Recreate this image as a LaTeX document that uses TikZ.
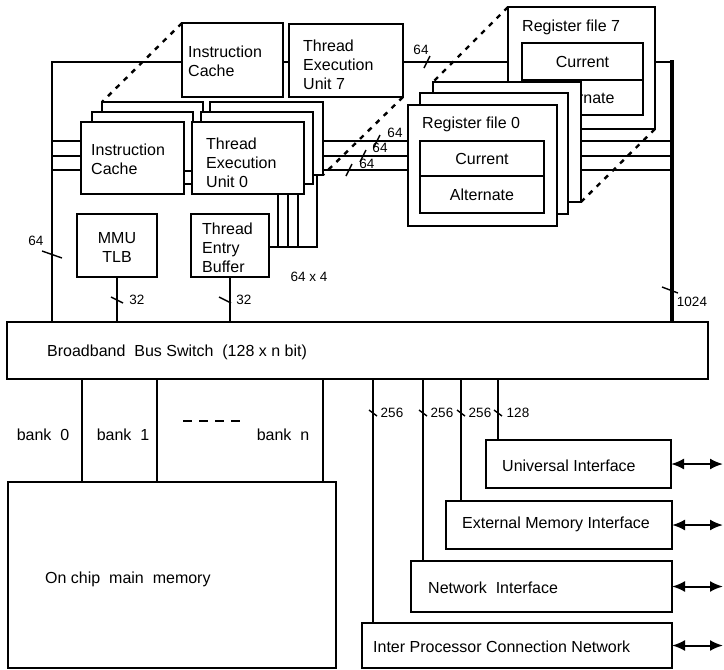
\documentclass[tikz,border=0pt]{standalone}
\usepackage{fontspec}
\setmainfont{Liberation Sans}
\usetikzlibrary{arrows.meta}
\newcommand\bx[5]{\node[box, minimum width=#4pt, minimum height=#5pt] (#1) at (#2,#3) {};}
\begin{document}
\begin{tikzpicture}[x=1pt,y=-1pt,
 box/.style={draw, line width=1.5pt, fill=white, inner sep=0pt, outer sep=0pt, anchor=north west},
 txt/.style={font=\fontsize{16}{19}\selectfont, inner sep=0pt, align=left},
 lbl/.style={font=\fontsize{13.5}{15}\selectfont, inner sep=0pt},
 wire/.style={line width=1.6pt},
 heavy/.style={line width=4pt},
 tick/.style={line width=1.4pt},
 persp/.style={line width=2.4pt, dash pattern=on 5pt off 6pt},
 io/.style={line width=2pt, {Latex[length=13pt,width=11pt]}-{Latex[length=13pt,width=11pt]}}]
\useasboundingbox (0,0) rectangle (724,670);
% helper coordinates
\coordinate (xL) at (52,0);
\coordinate (xR) at (672,0);
\coordinate (xE) at (723,0);
\coordinate (yT) at (0,62);
\coordinate (y1) at (0,141);
\coordinate (y2) at (0,156);
\coordinate (y3) at (0,170);
% lower boxes
\bx{bus}{7}{322}{701}{57}
\bx{mem}{8}{482}{328}{186}
\bx{ui}{486}{440}{185}{48}
\bx{emi}{446}{501}{226}{48}
\bx{ni}{411}{561}{261}{51}
\bx{ipcn}{362}{623}{310}{45}
\bx{mmu}{77}{214}{80}{63}
\bx{teb}{191}{214}{78}{63}
% frame and internal buses
\draw[wire] (bus.north -| xL) -- (xL |- yT) -- (xR |- yT);
\draw[wire] (xL |- y1) -- (xR |- y1);
\draw[wire] (xL |- y2) -- (xR |- y2);
\draw[wire] (xL |- y3) -- (xR |- y3);
\draw[heavy] (672,60) -- (bus.north -| xR);
% register file 7
\bx{rf7}{508}{7}{147}{122}
\bx{rf7c}{522}{43}{121}{37}
\bx{rf7a}{522}{80}{121}{35}
\node[txt, anchor=west] (trf7) at (522,27) {Register file 7};
\node[txt] (trf7c) at (rf7c.center) {Current};
\node[txt] (trf7a) at (rf7a.center) {Alternate};
\bx{rff2}{433}{82}{148}{120}
\bx{rff1}{420}{93}{148}{121}
\bx{rf0}{408}{105}{149}{121}
\bx{rf0c}{420}{141}{124}{35}
\bx{rf0a}{420}{176}{124}{37}
\node[txt, anchor=west] (trf0) at (422,124) {Register file 0};
\node[txt] (trf0c) at (rf0c.center) {Current};
\node[txt] (trf0a) at (rf0a.center) {Alternate};
% unit 7
\bx{ic7}{182}{23}{101}{74}
\bx{teu7}{289}{24}{114}{73}
\node[txt, anchor=west] (tic7) at (188,61) {Instruction\\Cache};
\node[txt, anchor=west] (tteu7) at (303,65) {Thread\\Execution\\Unit 7};
% stacked units
\bx{icf2}{102}{102}{101}{72}
\bx{teuf2}{210}{102}{113}{73}
\bx{icf1}{92}{112}{101}{72}
\bx{teuf1}{201}{112}{112}{72}
\bx{ic0}{81}{122}{103}{72}
\bx{teu0}{192}{122}{112}{72}
\node[txt, anchor=west] (tic0) at (91,159.5) {Instruction\\Cache};
\node[txt, anchor=west] (tteu0) at (206,162.5) {Thread\\Execution\\Unit 0};
% link between cache 0 and unit 0
\coordinate (ya) at (0,171);
\coordinate (yb) at (0,184);
\draw[wire] (ic0.east |- ya) -- (teu0.west |- ya);
\draw[wire] (ic0.east |- yb) -- (teu0.west |- yb);
% 64 x 4 links to thread entry buffer
\coordinate (v1) at (278,0);
\coordinate (v2) at (288,0);
\coordinate (v3) at (298,0);
\coordinate (v4) at (317,175);
\coordinate (yc) at (0,247);
\draw[wire] (teu0.south -| v1) -- (v1 |- yc);
\draw[wire] (teu0.south -| v2) -- (v2 |- yc);
\draw[wire] (teu0.south -| v3) -- (v3 |- yc);
\draw[wire] (v4) -- (v4 |- yc) -- (teb.east |- yc);
% MMU / TEB to bus
\draw[wire] (mmu.south) -- (mmu.south |- bus.north);
\draw[wire] (teb.south) -- (teb.south |- bus.north);
% banks
\coordinate (bk0) at (82,0);
\coordinate (bk1) at (157,0);
\coordinate (bkn) at (323,0);
\draw[wire] (bus.south -| bk0) -- (mem.north -| bk0);
\draw[wire] (bus.south -| bk1) -- (mem.north -| bk1);
\draw[wire] (bus.south -| bkn) -- (mem.north -| bkn);
\draw[line width=2.6pt, dash pattern=on 9pt off 7pt] (183,421) -- (240,421);
% interfaces
\coordinate (p1) at (373,0);
\coordinate (p2) at (423,0);
\coordinate (p3) at (461,0);
\coordinate (p4) at (498,0);
\draw[wire] (bus.south -| p1) -- (ipcn.north -| p1);
\draw[wire] (bus.south -| p2) -- (ni.north -| p2);
\draw[wire] (bus.south -| p3) -- (emi.north -| p3);
\draw[wire] (bus.south -| p4) -- (ui.north -| p4);
\draw[io] (ui.east) -- (ui.east -| xE);
\draw[io] (emi.east) -- (emi.east -| xE);
\draw[io] (ni.east) -- (ni.east -| xE);
\draw[io] (ipcn.east) -- (ipcn.east -| xE);
% texts
\node[txt] (tmmu) at (117,247.5) [align=center] {MMU\\TLB};
\node[txt, anchor=west] (tteb) at (202,248) {Thread\\Entry\\Buffer};
\node[txt, anchor=west] (tbus) at (47,352) {Broadband\ \ Bus Switch\ \ (128 x n bit)};
\node[txt] (tb0) at (43,435) {bank\ \ 0};
\node[txt] (tb1) at (123,435) {bank\ \ 1};
\node[txt] (tbn) at (283,435) {bank\ \ n};
\node[txt, anchor=west] (tmem) at (45,579) {On chip\ \ main\ \ memory};
\node[txt, anchor=west] (tui) at (502,466) {Universal Interface};
\node[txt, anchor=west] (temi) at (462,524) {External Memory Interface};
\node[txt, anchor=west] (tni) at (428,588) {Network\ \ Interface};
\node[txt, anchor=west] (tipcn) at (373,647) {Inter Processor Connection Network};
% width labels and ticks
\draw[tick] (424,68) -- (430,56);
\node[lbl] (l64a) at (421,50) {64};
\draw[tick] (374,147) -- (380,135);
\node[lbl] (l64b) at (395,133) {64};
\draw[tick] (360,162) -- (366,150);
\node[lbl] (l64c) at (380,148) {64};
\draw[tick] (346,176) -- (352,164);
\node[lbl] (l64d) at (367,164) {64};
\draw[tick] (42,251) -- (62,258);
\node[lbl] (l64e) at (36,241) {64};
\draw[tick] (111,297) -- (123,303);
\node[lbl] (l32a) at (137,300) {32};
\draw[tick] (219,297) -- (231,303);
\node[lbl] (l32b) at (244,300) {32};
\node[lbl] (l644) at (309,277) {64 x 4};
\draw[tick] (662,287) -- (678,293);
\node[lbl] (l1024) at (692,302) {1024};
\draw[tick] (369,410) -- (377,416);
\node[lbl] (l256a) at (392,413) {256};
\draw[tick] (419,410) -- (427,416);
\node[lbl] (l256b) at (442,413) {256};
\draw[tick] (457,410) -- (465,416);
\node[lbl] (l256c) at (480,413) {256};
\draw[tick] (494,410) -- (502,416);
\node[lbl] (l128) at (518,413) {128};
% perspective dashed lines
\draw[persp] (ic7.north west) -- (icf2.north west);
\draw[persp] (teu7.south east) -- (teuf2.south east);
\draw[persp] (rf7.north west) -- (rff2.north west);
\draw[persp] (rf7.south east) -- (rff2.south east);
\end{tikzpicture}
\end{document}
